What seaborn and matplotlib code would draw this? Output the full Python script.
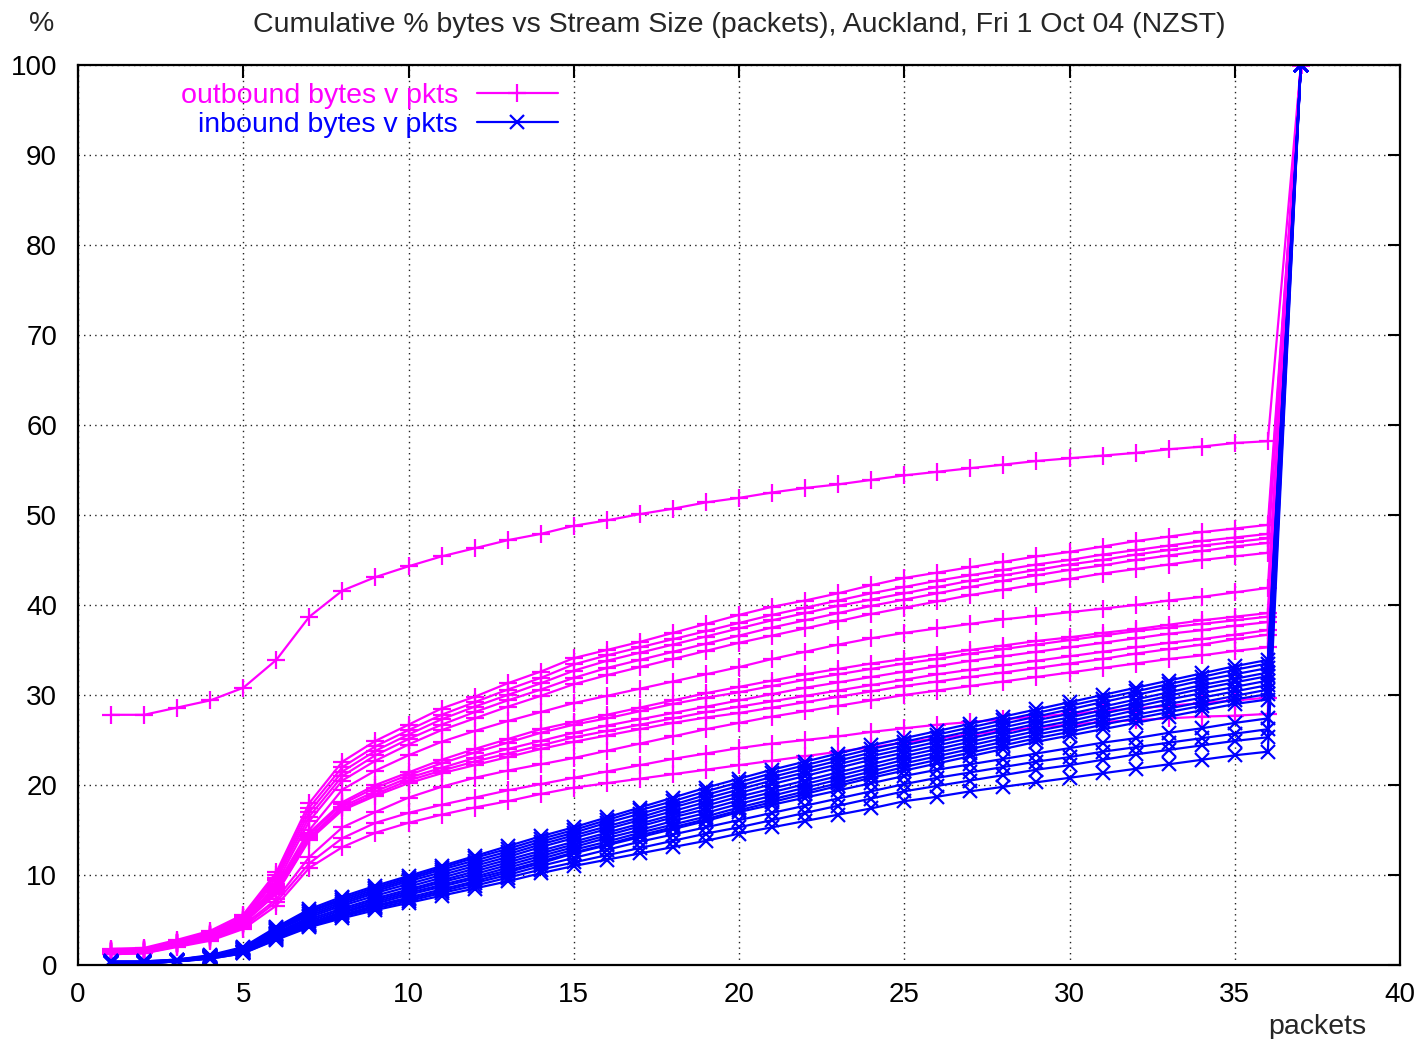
import matplotlib
matplotlib.use("Agg")
import matplotlib.pyplot as plt
import seaborn as sns
import pandas as pd
from matplotlib.lines import Line2D

packets = list(range(1, 38))

# outbound (magenta) cumulative % bytes
out_top = [27.8,27.8,28.6,29.4,30.8,33.9,38.7,41.6,43.1,44.3,45.4,46.3,47.2,47.9,48.8,49.4,50.1,50.7,51.4,51.9,52.5,53.0,53.4,53.9,54.4,54.8,55.2,55.6,56.0,56.3,56.6,56.9,57.3,57.6,58.0,58.2,100]
out_a1 = [1.8,1.9,2.8,3.8,5.6,10.3,18.0,22.6,24.9,26.7,28.5,29.8,31.3,32.6,34.1,35.0,35.9,36.9,37.9,38.9,39.8,40.5,41.3,42.2,43.0,43.6,44.2,44.8,45.4,45.9,46.5,47.1,47.6,48.1,48.5,48.9,100]
out_a2 = [1.7,1.8,2.7,3.6,5.4,10.0,17.5,22.0,24.3,26.1,27.8,29.2,30.6,31.9,33.4,34.4,35.3,36.2,37.1,38.0,38.9,39.7,40.5,41.3,42.0,42.7,43.3,43.9,44.5,45.0,45.6,46.1,46.6,47.1,47.5,47.9,100]
out_a3 = [1.7,1.8,2.6,3.5,5.2,9.7,17.0,21.5,23.8,25.6,27.3,28.7,30.0,31.3,32.7,33.8,34.7,35.6,36.5,37.4,38.3,39.1,39.9,40.6,41.3,42.0,42.7,43.3,43.9,44.5,45.0,45.6,46.1,46.6,47.0,47.4,100]
out_a4 = [1.6,1.7,2.5,3.4,5.0,9.4,16.5,21.0,23.3,25.1,26.7,28.1,29.4,30.6,31.9,33.0,33.9,34.8,35.7,36.6,37.5,38.3,39.1,39.9,40.6,41.3,42.0,42.7,43.3,43.9,44.4,45.0,45.5,46.0,46.5,46.9,100]
out_a5 = [1.5,1.6,2.4,3.3,4.8,9.0,16.0,20.5,22.7,24.5,26.1,27.4,28.7,29.9,31.2,32.2,33.1,34.0,34.9,35.8,36.6,37.4,38.2,39.0,39.7,40.4,41.1,41.7,42.3,42.9,43.5,44.0,44.5,45.0,45.4,45.8,100]
out_b1 = [1.6,1.7,2.5,3.3,4.9,8.8,15.0,19.5,21.6,23.3,24.8,26.0,27.1,28.1,29.1,29.9,30.7,31.5,32.3,33.1,34.0,34.8,35.6,36.3,36.9,37.4,37.9,38.4,38.8,39.2,39.6,40.0,40.5,40.9,41.4,41.9,100]
out_b2 = [1.6,1.7,2.5,3.3,5.0,8.6,14.7,18.1,20.0,21.4,22.8,24.0,25.1,26.2,27.0,27.8,28.6,29.4,30.2,30.9,31.6,32.3,32.9,33.5,34.0,34.5,35.0,35.5,36.0,36.4,36.9,37.3,37.8,38.3,38.7,39.1,100]
out_b3 = [1.5,1.6,2.4,3.2,4.9,8.4,14.5,17.9,19.7,21.1,22.4,23.6,24.7,25.8,26.7,27.4,28.2,29.0,29.7,30.3,31.0,31.7,32.3,32.9,33.5,34.0,34.6,35.1,35.6,36.1,36.6,37.1,37.5,37.9,38.3,38.7,100]
out_b4 = [1.5,1.6,2.4,3.1,4.8,8.2,14.2,17.6,19.3,20.8,21.9,23.0,24.0,24.9,25.8,26.6,27.3,28.0,28.7,29.4,30.1,30.8,31.4,32.0,32.6,33.2,33.8,34.3,34.8,35.3,35.8,36.3,36.8,37.2,37.7,38.1,100]
out_b5 = [1.4,1.5,2.3,3.1,4.7,8.0,14.0,17.4,19.0,20.5,21.6,22.6,23.5,24.4,25.3,26.0,26.7,27.4,28.1,28.7,29.3,29.9,30.5,31.1,31.7,32.3,32.8,33.3,33.8,34.3,34.8,35.3,35.8,36.2,36.7,37.2,100]
out_b6 = [1.4,1.5,2.3,3.0,4.6,7.9,13.9,17.2,18.8,20.2,21.3,22.2,23.1,24.0,24.8,25.5,26.2,26.9,27.5,28.0,28.6,29.2,29.8,30.4,31.0,31.5,32.0,32.5,33.0,33.5,34.0,34.6,35.1,35.6,36.2,36.7,100]
out_c1 = [1.3,1.4,2.2,2.9,4.4,7.3,12.0,15.3,17.0,18.6,19.8,20.8,21.6,22.3,23.0,23.8,24.6,25.4,26.2,26.9,27.6,28.2,28.8,29.4,30.0,30.5,31.0,31.5,32.0,32.5,33.0,33.5,34.0,34.4,34.9,35.3,100]
out_c2 = [1.2,1.3,2.1,2.8,4.2,7.0,11.3,14.1,15.8,16.9,17.8,18.6,19.4,20.1,20.8,21.5,22.2,22.9,23.5,24.1,24.6,25.0,25.4,25.9,26.3,26.7,27.0,27.3,27.6,27.9,28.2,28.5,28.8,29.1,29.4,29.7,100]
out_c3 = [1.2,1.3,2.0,2.7,4.0,6.6,10.8,13.1,14.7,15.8,16.7,17.5,18.2,19.0,19.7,20.2,20.7,21.2,21.7,22.2,22.7,23.2,23.7,24.2,24.7,25.2,25.6,26.0,26.4,26.7,27.0,27.2,27.4,27.6,27.7,27.9,100]

# inbound (blue) cumulative % bytes
in_u1 = [0.4,0.4,0.6,1.1,2.0,4.2,6.2,7.6,8.8,9.9,11.0,12.1,13.2,14.3,15.3,16.4,17.5,18.6,19.7,20.7,21.7,22.6,23.5,24.4,25.2,26.0,26.8,27.6,28.4,29.2,30.0,30.8,31.6,32.4,33.2,33.9,100]
in_u2 = [0.4,0.4,0.6,1.0,1.9,4.1,6.0,7.4,8.6,9.7,10.8,11.9,12.9,14.0,15.0,16.1,17.2,18.2,19.3,20.3,21.3,22.2,23.1,24.0,24.8,25.6,26.4,27.2,28.0,28.8,29.6,30.4,31.2,32.0,32.8,33.5,100]
in_u3 = [0.3,0.3,0.6,1.0,1.9,4.0,5.9,7.2,8.4,9.5,10.6,11.6,12.6,13.7,14.7,15.8,16.8,17.8,18.9,19.9,20.9,21.8,22.7,23.6,24.4,25.2,26.0,26.8,27.6,28.4,29.2,30.0,30.8,31.6,32.3,33.0,100]
in_u4 = [0.3,0.3,0.5,1.0,1.8,3.9,5.7,7.0,8.2,9.3,10.3,11.3,12.3,13.4,14.4,15.4,16.4,17.5,18.5,19.5,20.5,21.4,22.3,23.2,24.0,24.8,25.6,26.4,27.2,27.9,28.7,29.5,30.3,31.1,31.8,32.5,100]
in_u5 = [0.3,0.3,0.5,0.9,1.8,3.8,5.5,6.8,8.0,9.0,10.0,11.0,12.0,13.1,14.1,15.1,16.1,17.1,18.1,19.1,20.1,21.0,21.9,22.8,23.6,24.4,25.2,26.0,26.8,27.5,28.3,29.1,29.9,30.7,31.4,32.1,100]
in_u6 = [0.3,0.3,0.5,0.9,1.7,3.6,5.3,6.6,7.7,8.7,9.7,10.7,11.7,12.7,13.7,14.7,15.7,16.7,17.7,18.7,19.6,20.5,21.4,22.3,23.2,24.0,24.8,25.6,26.4,27.1,27.9,28.7,29.5,30.2,30.9,31.6,100]
in_u7 = [0.3,0.3,0.5,0.9,1.7,3.5,5.1,6.3,7.4,8.4,9.4,10.4,11.4,12.4,13.4,14.4,15.4,16.4,17.3,18.3,19.2,20.1,21.0,21.9,22.8,23.6,24.4,25.2,26.0,26.7,27.5,28.3,29.0,29.7,30.4,31.1,100]
in_u8 = [0.2,0.2,0.5,0.9,1.6,3.4,4.9,6.1,7.2,8.2,9.2,10.1,11.1,12.1,13.1,14.1,15.0,16.0,16.9,17.9,18.8,19.7,20.6,21.5,22.4,23.2,24.0,24.8,25.6,26.3,27.1,27.8,28.5,29.2,29.9,30.6,100]
in_u9 = [0.2,0.2,0.4,0.8,1.5,3.3,4.7,5.9,7.0,8.0,8.9,9.8,10.8,11.8,12.8,13.7,14.7,15.6,16.5,17.5,18.4,19.3,20.2,21.1,22.0,22.8,23.6,24.4,25.2,25.9,26.7,27.4,28.1,28.8,29.5,30.1,100]
in_u10 = [0.2,0.2,0.4,0.8,1.4,3.2,4.6,5.8,6.8,7.8,8.7,9.6,10.5,11.5,12.5,13.4,14.4,15.3,16.2,17.2,18.1,19.0,19.9,20.8,21.6,22.4,23.2,24.0,24.8,25.5,26.2,26.9,27.6,28.3,29.0,29.5,100]
in_l1 = [0.2,0.2,0.4,0.8,1.4,3.1,4.5,5.6,6.6,7.5,8.4,9.3,10.3,11.3,12.4,13.3,14.2,15.1,16.0,17.0,17.8,18.6,19.4,20.2,21.0,21.7,22.3,22.9,23.5,24.1,24.7,25.2,25.8,26.3,26.9,27.4,100]
in_l2 = [0.2,0.2,0.4,0.8,1.4,3.0,4.4,5.5,6.5,7.3,8.2,9.1,10.0,11.0,11.9,12.8,13.7,14.5,15.3,16.1,16.9,17.7,18.5,19.3,20.1,20.8,21.4,22.0,22.6,23.1,23.7,24.2,24.7,25.2,25.7,26.2,100]
in_l3 = [0.2,0.2,0.4,0.7,1.3,2.9,4.3,5.4,6.3,7.1,8.0,8.8,9.7,10.6,11.4,12.2,13.0,13.8,14.6,15.3,16.1,16.9,17.7,18.5,19.3,19.9,20.5,21.1,21.7,22.2,22.8,23.4,23.9,24.4,24.9,25.3,100]
in_l4 = [0.2,0.2,0.4,0.7,1.3,2.8,4.2,5.2,6.1,6.9,7.7,8.5,9.3,10.2,11.0,11.7,12.4,13.1,13.8,14.6,15.3,16.0,16.7,17.4,18.2,18.7,19.3,19.8,20.3,20.8,21.3,21.8,22.3,22.8,23.3,23.7,100]

outbound_series = [out_top, out_a1, out_a2, out_a3, out_a4, out_a5, out_b1, out_b2,
                   out_b3, out_b4, out_b5, out_b6, out_c1, out_c2, out_c3]
inbound_series = [in_u1, in_u2, in_u3, in_u4, in_u5, in_u6, in_u7, in_u8, in_u9,
                  in_u10, in_l1, in_l2, in_l3, in_l4]

legend_labels = ["outbound bytes v pkts", "inbound bytes v pkts"]
title = "Cumulative % bytes vs Stream Size (packets), Auckland, Fri 1 Oct 04 (NZST)"


def to_frame(series_list, prefix):
    frames = []
    for i, vals in enumerate(series_list):
        frames.append(pd.DataFrame({"packets": packets, "pct": vals,
                                    "stream": f"{prefix}{i}"}))
    return pd.concat(frames, ignore_index=True)


df_out = to_frame(outbound_series, "out")
df_in = to_frame(inbound_series, "in")

sns.set_style("white")
plt.rcParams["font.family"] = ["Liberation Sans", "DejaVu Sans"]
FS = 20.5
TFS = 20

MAG = "#ff00ff"
BLU = "#0000ff"

fig = plt.figure(figsize=(14.27, 10.39), dpi=100)
ax = fig.add_axes([78 / 1427, 1 - 965 / 1039, 1322 / 1427, 900 / 1039])

ax.grid(True, color="#222222", linestyle=(0, (1, 3)), linewidth=1.0)
ax.set_axisbelow(True)

sns.lineplot(data=df_out, x="packets", y="pct", units="stream", estimator=None,
             sort=False, color=MAG, marker="+", markersize=13, markeredgewidth=1.6,
             markeredgecolor=MAG, linewidth=1.6, ax=ax, legend=False)
sns.lineplot(data=df_in, x="packets", y="pct", units="stream", estimator=None,
             sort=False, color=BLU, marker="x", markersize=10, markeredgewidth=1.6,
             markeredgecolor=BLU, linewidth=1.6, ax=ax, legend=False)

ax.set_xlim(0, 40)
ax.set_ylim(0, 100)
ax.set_xticks(range(0, 41, 5))
ax.set_yticks(range(0, 101, 10))
ax.tick_params(direction="in", top=True, right=True, length=9, width=1.5,
               labelsize=TFS, colors="black")
ax.tick_params(axis="x", pad=12)
ax.tick_params(axis="y", pad=15)
for s in ax.spines.values():
    s.set_linewidth(1.6)
    s.set_color("black")

ax.set_xlabel("packets", fontsize=FS, va="top")
ax.xaxis.set_label_coords((1317 - 78) / 1322, -(1014 - 965) / 900)
ax.set_ylabel("%", fontsize=FS, rotation=0, va="center", ha="center")
ax.yaxis.set_label_coords((42 - 78) / 1322, (965 - 24) / 900)
ax.set_title(title, fontsize=FS, pad=24)

handles = [Line2D([], [], color=MAG, marker="+", markersize=13, markeredgewidth=1.6, linewidth=1.6),
           Line2D([], [], color=BLU, marker="x", markersize=10, markeredgewidth=1.6, linewidth=1.6)]
ax.legend(handles, legend_labels, markerfirst=False, labelcolor=[MAG, BLU],
          frameon=False, loc="upper right", bbox_to_anchor=((558 - 78) / 1322, 0.98),
          handlelength=2.85, handletextpad=0.67, borderpad=0, borderaxespad=0,
          labelspacing=0.1, fontsize=FS)

fig.savefig("out.png", dpi=100)
